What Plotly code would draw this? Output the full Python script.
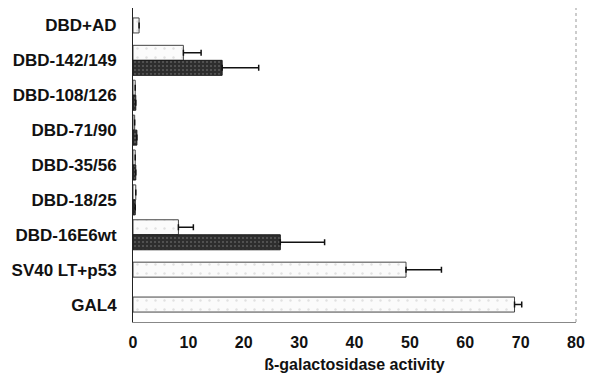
import plotly.graph_objects as go

categories = ["DBD+AD", "DBD-142/149", "DBD-108/126", "DBD-71/90", "DBD-35/56",
              "DBD-18/25", "DBD-16E6wt", "SV40 LT+p53", "GAL4"]
# open (light) bars
light_values = [1.1, 9.1, 0.4, 0.3, 0.4, 0.5, 8.2, 49.3, 68.9]
light_errors = [0.0, 3.2, 0.0, 0.0, 0.0, 0.0, 2.7, 6.4, 1.3]
# dark (stippled) bars, None where absent
dark_values = [None, 16.1, 0.5, 0.7, 0.5, 0.4, 26.6, None, None]
dark_errors = [None, 6.6, 0.0, 0.0, 0.0, 0.0, 8.0, None, None]
x_ticks = [0, 10, 20, 30, 40, 50, 60, 70, 80]

BW = 0.43
light_offsets = [(-BW / 2 if d is None else -BW) for d in dark_values]

pair_cats = [c for c, d in zip(categories, dark_values) if d is not None]
pair_vals = [d for d in dark_values if d is not None]
pair_errs = [e for e, d in zip(dark_errors, dark_values) if d is not None]

FAM = "Liberation Sans, Arial, sans-serif"
tick_font = dict(family=FAM, size=16, color="#111", weight="bold")

fig = go.Figure()
fig.add_trace(go.Bar(
    y=categories, x=light_values, orientation="h",
    offset=light_offsets, width=BW,
    marker=dict(color="#fbfbfb", line=dict(color="#444", width=1),
                pattern=dict(shape=".", fgcolor="#c8c8c8", size=9, solidity=0.06)),
    error_x=dict(type="data", array=light_errors, arrayminus=[0] * len(light_errors),
                 symmetric=False, color="#111", thickness=1.5, width=3),
    showlegend=False,
))
fig.add_trace(go.Bar(
    y=pair_cats, x=pair_vals, orientation="h",
    offset=0, width=BW,
    marker=dict(color="#2e2e2e", line=dict(color="#1a1a1a", width=1),
                pattern=dict(shape=".", fgcolor="#8a8a8a", size=4, solidity=0.2)),
    error_x=dict(type="data", array=pair_errs, arrayminus=[0] * len(pair_errs),
                 symmetric=False, color="#111", thickness=1.5, width=3),
    showlegend=False,
))

fig.add_shape(type="line", xref="paper", yref="paper", x0=1, x1=1, y0=0, y1=1,
              line=dict(color="#999", width=1, dash="dot"))

fig.update_layout(
    width=593, height=378,
    margin=dict(l=133, r=11, t=8, b=56),
    paper_bgcolor="white", plot_bgcolor="white",
    barmode="overlay",
    font=dict(family=FAM, color="#111"),
    xaxis=dict(range=[0, 80], tickvals=x_ticks, showgrid=False, zeroline=False,
               showline=True, linecolor="#888", linewidth=1,
               ticks="", tickfont=tick_font, ticklabelstandoff=6,
               title=dict(text="ß-galactosidase activity", standoff=8,
                          font=dict(family=FAM, size=16, color="#111", weight="bold"))),
    yaxis=dict(categoryorder="array", categoryarray=categories, autorange="reversed",
               showgrid=False, zeroline=False, showline=True, linecolor="#222", linewidth=1,
               ticks="", tickfont=dict(family=FAM, size=17, color="#111", weight="bold"),
               ticklabelstandoff=12),
)

fig.write_html("out.html")
